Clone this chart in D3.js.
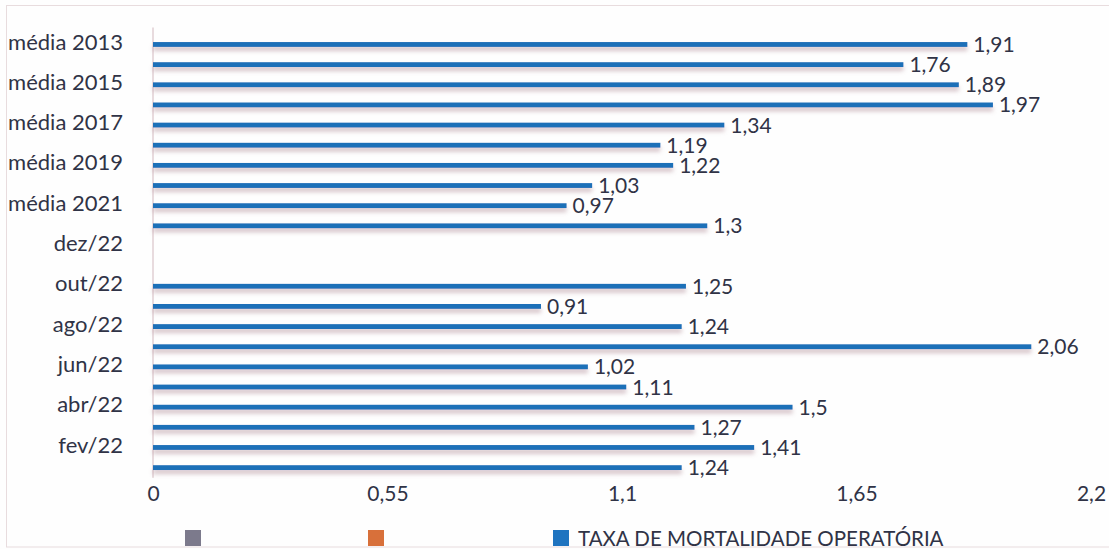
<!DOCTYPE html>
<html>
<head>
<meta charset="utf-8">
<script src="https://cdn.jsdelivr.net/npm/d3@7"></script>
<style>
  html, body { margin: 0; padding: 0; background: #fefefe; }
  svg { display: block; }
  text { font-family: Lato, "Liberation Sans", sans-serif; fill: #303346; }
</style>
</head>
<body>
<svg id="chart" width="1109" height="549"></svg>
<script>
// Categories, top to bottom
const categories = [
  "média 2013","média 2014","média 2015","média 2016","média 2017","média 2018",
  "média 2019","média 2020","média 2021","média 2022","dez/22","nov/22",
  "out/22","set/22","ago/22","jul/22","jun/22","mai/22","abr/22","mar/22",
  "fev/22","jan/22"
];
// TAXA DE MORTALIDADE OPERATÓRIA
const values = [
  1.91, 1.76, 1.89, 1.97, 1.34, 1.19,
  1.22, 1.03, 0.97, 1.30, null, null,
  1.25, 0.91, 1.24, 2.06, 1.02, 1.11, 1.50, 1.27,
  1.41, 1.24
];
const xTicks = [0, 0.55, 1.1, 1.65, 2.2];
const legendItems = [
  { label: "", color: "#7c7a8c" },
  { label: "", color: "#d8703a" },
  { label: "TAXA DE MORTALIDADE OPERATÓRIA", color: "#1f74c0" }
];

const fmt = v => String(+v.toFixed(2)).replace(".", ",");

const svg = d3.select("#chart");

// faint chart border
svg.append("rect")
  .attr("x", 6.5).attr("y", 5.5).attr("width", 1108).attr("height", 541.5)
  .attr("fill", "none").attr("stroke", "#e8dcde").attr("stroke-width", 1);

const defs = svg.append("defs");
const f = defs.append("filter").attr("id", "shadow")
  .attr("x", "-2%").attr("y", "-100%").attr("width", "104%").attr("height", "400%");
f.append("feDropShadow")
  .attr("dx", 0).attr("dy", 4).attr("stdDeviation", 2.2)
  .attr("flood-color", "#a57a88").attr("flood-opacity", 0.45);

const x = d3.scaleLinear().domain([0, 2.2]).range([153, 1091]);
const y = d3.scaleBand().domain(categories).range([34.4, 477.7])
  .paddingInner(0.76).paddingOuter(0.38);

// vertical axis line
svg.append("line")
  .attr("x1", x(0)).attr("x2", x(0))
  .attr("y1", y.range()[0] - 7).attr("y2", y.range()[1])
  .attr("stroke", "#d9c3c8").attr("stroke-width", 1.2);

// bars
const data = categories.map((c, i) => ({ c, v: values[i] })).filter(d => d.v != null);

svg.append("g").attr("filter", "url(#shadow)")
  .selectAll("rect").data(data).enter().append("rect")
  .attr("x", x(0))
  .attr("y", d => y(d.c))
  .attr("width", d => x(d.v) - x(0))
  .attr("height", y.bandwidth())
  .attr("fill", "#1f6fb8");

// value labels
svg.append("g").selectAll("text").data(data).enter().append("text")
  .attr("x", d => x(d.v) + 6)
  .attr("y", d => y(d.c) + y.bandwidth() / 2)
  .attr("dy", "0.36em")
  .attr("font-size", 21)
  .text(d => fmt(d.v));

// y axis labels (every other category)
const yAxis = d3.axisLeft(y)
  .tickValues(categories.filter((c, i) => i % 2 === 0))
  .tickSize(0).tickPadding(30);
const gy = svg.append("g").attr("transform", `translate(${x(0)},-2)`).call(yAxis);
gy.select(".domain").remove();
gy.selectAll("text").attr("font-size", 22).attr("fill", "#303346")
  .style("font-family", "Lato, 'Liberation Sans', sans-serif");

// x axis labels
const xAxis = d3.axisBottom(x).tickValues(xTicks).tickSize(0).tickPadding(0)
  .tickFormat(fmt);
const gx = svg.append("g").attr("transform", `translate(0,486)`).call(xAxis);
gx.select(".domain").remove();
gx.selectAll("text").attr("font-size", 21).attr("fill", "#303346")
  .style("font-family", "Lato, 'Liberation Sans', sans-serif");

// legend
const legendX = [185, 368, 553];
const lg = svg.append("g");
legendItems.forEach((it, i) => {
  lg.append("rect").attr("x", legendX[i]).attr("y", 530)
    .attr("width", 16).attr("height", 16).attr("fill", it.color);
  if (it.label) {
    lg.append("text").attr("x", legendX[i] + 25).attr("y", 546)
      .attr("font-size", 20.5).text(it.label);
  }
});
</script>
</body>
</html>
